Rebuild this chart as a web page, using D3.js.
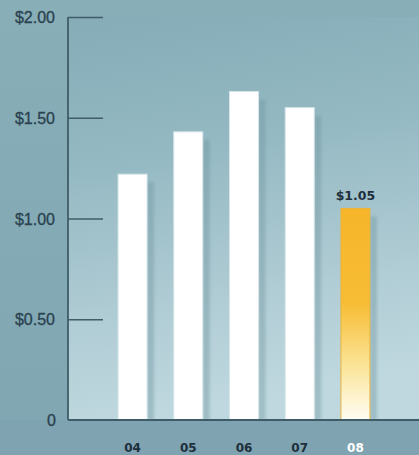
<!DOCTYPE html>
<html>
<head>
<meta charset="utf-8">
<script src="https://cdn.jsdelivr.net/npm/d3@7"></script>
<style>
  html, body { margin: 0; padding: 0; background: #85aab6; }
  svg { display: block; }
</style>
</head>
<body>
<script>
// Dividends per share by fiscal year
const years = ["04", "05", "06", "07", "08"];
const values = [1.22, 1.43, 1.63, 1.55, 1.05];
const tickValues = [0, 0.5, 1.0, 1.5, 2.0];
const tickLabels = ["0", "$0.50", "$1.00", "$1.50", "$2.00"];
const highlightYear = "08";

const W = 419, H = 455;
const margin = { top: 17, right: 0, bottom: 35, left: 68 };

const svg = d3.select("body").append("svg").attr("width", W).attr("height", H);
const defs = svg.append("defs");

// backdrop gradients
const bg = defs.append("linearGradient").attr("id", "bg")
  .attr("x1", 0).attr("y1", 0).attr("x2", 0).attr("y2", 1);
bg.append("stop").attr("offset", 0).attr("stop-color", "#88aeb8");
bg.append("stop").attr("offset", 1).attr("stop-color", "#80a6b2");

const panel = defs.append("linearGradient").attr("id", "panel")
  .attr("x1", 0).attr("y1", 0).attr("x2", 0.15).attr("y2", 1);
panel.append("stop").attr("offset", 0).attr("stop-color", "#85acb7");
panel.append("stop").attr("offset", 0.35).attr("stop-color", "#93b8c2");
panel.append("stop").attr("offset", 0.75).attr("stop-color", "#b0ccd4");
panel.append("stop").attr("offset", 1).attr("stop-color", "#bfd8df");

const gold = defs.append("linearGradient").attr("id", "gold")
  .attr("x1", 0).attr("y1", 0).attr("x2", 0).attr("y2", 1);
gold.append("stop").attr("offset", 0).attr("stop-color", "#f6b52a");
gold.append("stop").attr("offset", 0.45).attr("stop-color", "#f7bd35");
gold.append("stop").attr("offset", 0.75).attr("stop-color", "#fbe59a");
gold.append("stop").attr("offset", 1).attr("stop-color", "#fffdf4");

const shadowBlur = defs.append("filter").attr("id", "soft")
  .attr("x", "-50%").attr("y", "-10%").attr("width", "200%").attr("height", "120%");
shadowBlur.append("feGaussianBlur").attr("stdDeviation", 1.5);

svg.append("rect").attr("width", W).attr("height", H).attr("fill", "url(#bg)");

const x = d3.scaleBand().domain(years)
  .range([93, 395]).paddingInner(0.48).paddingOuter(0.45);
const y = d3.scaleLinear().domain([0, 2]).range([H - margin.bottom, margin.top]);

// plot panel
svg.append("rect")
  .attr("x", margin.left).attr("y", margin.top)
  .attr("width", W - margin.left).attr("height", y(0) - margin.top)
  .attr("fill", "url(#panel)");

// bottom band under the baseline
svg.append("rect")
  .attr("x", 0).attr("y", y(0))
  .attr("width", W).attr("height", H - y(0))
  .attr("fill", "#7fa3b0");

// bar shadows
svg.append("g").selectAll("rect").data(values).join("rect")
  .attr("x", (d, i) => x(years[i]) + x.bandwidth())
  .attr("y", d => y(d) + 8)
  .attr("width", 7)
  .attr("height", d => y(0) - y(d) - 8)
  .attr("fill", "#6f949f").attr("opacity", 0.4)
  .attr("filter", "url(#soft)");

// bars
svg.append("g").selectAll("rect").data(values).join("rect")
  .attr("x", (d, i) => x(years[i]))
  .attr("y", d => y(d))
  .attr("width", x.bandwidth())
  .attr("height", d => y(0) - y(d))
  .attr("fill", (d, i) => years[i] === highlightYear ? "url(#gold)" : "#ffffff")
  .attr("stroke", (d, i) => years[i] === highlightYear ? "#e9b43a" : "#d6e6ea")
  .attr("stroke-width", 1);

// value label on the highlighted bar
const hi = years.indexOf(highlightYear);
svg.append("text")
  .attr("x", x(highlightYear) + x.bandwidth() / 2)
  .attr("y", y(values[hi]) - 8)
  .attr("text-anchor", "middle")
  .attr("font-family", "'DejaVu Sans', sans-serif")
  .attr("font-weight", "bold")
  .attr("font-size", 12.5)
  .attr("fill", "#1d2f3c")
  .text("$" + values[hi].toFixed(2));

// y axis
const yAxis = d3.axisRight(y).tickValues(tickValues.slice(1))
  .tickSize(35).tickFormat("");
const ya = svg.append("g").attr("transform", `translate(${margin.left},0)`).call(yAxis);
ya.select(".domain").remove();
ya.selectAll(".tick line").attr("stroke", "#3f5d69").attr("stroke-width", 1.6);

svg.append("line")
  .attr("x1", margin.left).attr("x2", margin.left)
  .attr("y1", y(2)).attr("y2", y(0))
  .attr("stroke", "#3f5d69").attr("stroke-width", 1.8);

svg.append("line")
  .attr("x1", margin.left).attr("x2", W)
  .attr("y1", y(0)).attr("y2", y(0))
  .attr("stroke", "#3f5d69").attr("stroke-width", 2);

svg.append("g").selectAll("text").data(tickValues).join("text")
  .attr("x", d => d === 0 ? 56 : 55)
  .attr("y", d => y(d) + 6)
  .attr("text-anchor", "end")
  .attr("font-family", "'Liberation Sans Narrow', 'Liberation Sans', sans-serif")
  .attr("font-size", 16)
  .attr("fill", "#2a424e")
  .attr("stroke", "#2a424e").attr("stroke-width", 0.3)
  .text((d, i) => tickLabels[i]);

// x axis labels
svg.append("g").selectAll("text").data(years).join("text")
  .attr("x", d => x(d) + x.bandwidth() / 2)
  .attr("y", 452)
  .attr("text-anchor", "middle")
  .attr("font-family", "'DejaVu Sans', sans-serif")
  .attr("font-weight", "bold")
  .attr("font-size", 12)
  .attr("fill", d => d === highlightYear ? "#ffffff" : "#1d2f3c")
  .text(d => d);
</script>
</body>
</html>
